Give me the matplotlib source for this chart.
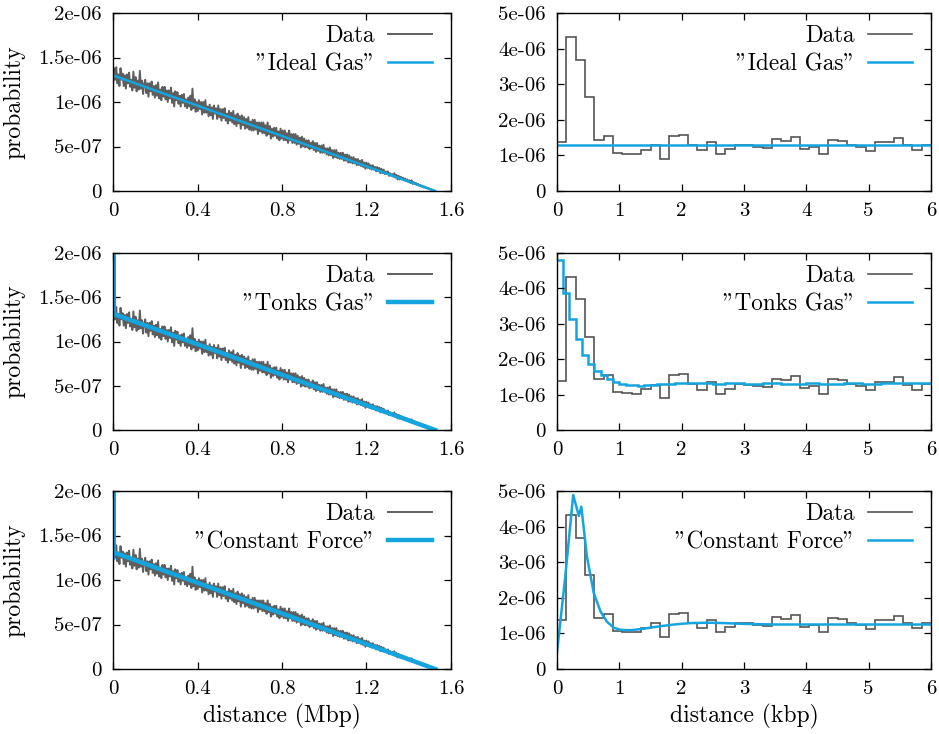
import numpy as np
import matplotlib
matplotlib.use("Agg")
import matplotlib.pyplot as plt

plt.rcParams['font.family'] = ['cmr10', 'DejaVu Serif']
plt.rcParams['axes.unicode_minus'] = False

# ---------------- data ----------------
# left panels: distance (Mbp) vs probability (units of 1e-8)
mbp_x_max = 1.52
mbp_data = [118, 138, 125, 139, 121, 131, 118, 138, 125, 132,
            118, 130, 115, 131, 121, 133, 117, 125, 113, 134,
            116, 128, 112, 124, 114, 135, 115, 124, 109, 120,
            125, 110, 121, 106, 121, 112, 123, 108, 118, 105,
            119, 107, 122, 104, 114, 102, 117, 106, 117, 103,
            113, 100, 113, 104, 116, 99, 110, 95, 112, 102,
            111, 98, 107, 95, 108, 99, 109, 95, 103, 93,
            105, 95, 107, 91, 115, 93, 103, 89, 100, 90,
            102, 92, 100, 86, 100, 88, 102, 88, 95, 84,
            97, 85, 94, 81, 96, 87, 93, 81, 96, 83,
            92, 79, 92, 82, 93, 79, 87, 76, 90, 79,
            88, 77, 90, 75, 85, 73, 87, 76, 84, 70,
            85, 74, 83, 70, 81, 71, 83, 69, 78, 68,
            80, 68, 80, 69, 77, 64, 77, 67, 77, 65,
            77, 65, 74, 62, 77, 64, 73, 59, 70, 61,
            71, 62, 71, 59, 67, 57, 70, 59, 68, 57,
            68, 57, 65, 54, 68, 57, 64, 54, 64, 54,
            64, 52, 62, 53, 60, 49, 61, 50, 59, 49,
            57, 49, 57, 47, 54, 48, 56, 46, 54, 44,
            54, 45, 51, 43, 51, 43, 52, 43, 48, 41,
            48, 40, 49, 40, 46, 37, 46, 38, 46, 37,
            43, 36, 43, 36, 43, 34, 41, 34, 41, 32,
            40, 32, 38, 31, 38, 31, 36, 29, 36, 29,
            34, 28, 35, 27, 32, 25, 32, 26, 31, 25,
            29, 24, 29, 24, 27, 22, 27, 22, 26, 20,
            25, 20, 24, 19, 22, 19, 22, 17, 20, 17,
            19, 16, 20, 15, 18, 13, 17, 13, 16, 13,
            15, 12, 14, 11, 13, 10, 12, 9, 12, 8,
            10, 8, 9, 7, 8, 6, 7, 5, 6, 4,
            5, 4, 4, 3, 3, 2, 2, 1, 1, 0]
mbp_scale = 1e-8

ideal_left_x = [0.0, 1.525]
ideal_left_y = [1.30e-6, 0.0]
tonks_left_x = [0.0, 0.0, 0.004, 1.525]
tonks_left_y = [1.30e-6, 4.8e-6, 1.31e-6, 0.0]
force_left_x = [0.0, 0.0, 0.004, 1.525]
force_left_y = [1.25e-6, 4.9e-6, 1.31e-6, 0.0]

# right panels: distance (kbp) histogram, bin width 0.15 kbp
kbp_edges_step = 0.15
kbp_hist = [1.39, 4.32, 3.69, 2.64, 1.43, 1.55, 1.08, 1.05, 1.03, 1.15,
            1.28, 0.91, 1.55, 1.57, 1.30, 1.14, 1.37, 1.03, 1.17, 1.30,
            1.28, 1.24, 1.22, 1.45, 1.41, 1.52, 1.19, 1.24, 1.03, 1.43,
            1.40, 1.29, 1.23, 1.13, 1.37, 1.37, 1.50, 1.28, 1.14, 1.29]

ideal_right_x = [0.0, 6.0]
ideal_right_y = [1.30, 1.30]

# Tonks gas steps, width 0.1 kbp
tonks_step = 0.1
tonks_right = [4.79, 3.88, 3.13, 2.56, 2.13, 1.86, 1.68, 1.55, 1.43, 1.35,
               1.30, 1.27, 1.26, 1.25, 1.26, 1.27, 1.29, 1.30, 1.31, 1.32,
               1.33, 1.33, 1.33, 1.32, 1.32, 1.31, 1.31, 1.32, 1.32, 1.32,
               1.31, 1.31, 1.31, 1.32, 1.32, 1.32, 1.31, 1.31, 1.31, 1.31,
               1.32, 1.32, 1.31, 1.31, 1.31, 1.31, 1.32, 1.32, 1.32, 1.31,
               1.31, 1.31, 1.32, 1.32, 1.32, 1.32, 1.32, 1.33, 1.33, 1.33]

force_right_x = [0.0, 0.13, 0.26, 0.35, 0.39, 0.48, 0.59, 0.70, 0.80, 0.91,
                 1.02, 1.18, 1.34, 1.61, 1.875, 2.14, 2.41, 2.68, 2.95, 3.48,
                 4.0, 5.0, 6.0]
force_right_y = [0.47, 2.55, 4.89, 4.30, 4.56, 3.16, 2.13, 1.61, 1.33, 1.16,
                 1.10, 1.09, 1.12, 1.19, 1.25, 1.29, 1.30, 1.29, 1.27, 1.25,
                 1.25, 1.25, 1.25]
kbp_scale = 1e-6

model_names = ['"Ideal Gas"', '"Tonks Gas"', '"Constant Force"']

left_yticks = [0, 5e-7, 1e-6, 1.5e-6, 2e-6]
left_yticklabels = ['0', '5e-07', '1e-06', '1.5e-06', '2e-06']
left_xticks = [0, 0.4, 0.8, 1.2, 1.6]
left_xticklabels = ['0', '0.4', '0.8', '1.2', '1.6']
right_yticks = [0, 1e-6, 2e-6, 3e-6, 4e-6, 5e-6]
right_yticklabels = ['0', '1e-06', '2e-06', '3e-06', '4e-06', '5e-06']
right_xticks = [0, 1, 2, 3, 4, 5, 6]
right_xticklabels = ['0', '1', '2', '3', '4', '5', '6']

# ---------------- plot ----------------
GRAY_L = '#5e5e5e'
GRAY_R = '#555555'
BLUE = '#14a5de'
FS_TICK = 15
FS_LAB = 17
FS_LEG = 16.7

W, H = 939, 734
fig = plt.figure(figsize=(W / 100, H / 100), dpi=100)

rows = [(13, 191), (253, 430), (491, 669)]
lcol = (113, 451)
rcol = (557, 931)

def add_ax(col, row):
    x0, x1 = col
    y0, y1 = row
    return fig.add_axes([x0 / W, 1 - y1 / H, (x1 - x0) / W, (y1 - y0) / H])

mbp_x = np.linspace(0, mbp_x_max, len(mbp_data))
mbp_y = np.array(mbp_data) * mbp_scale
edges = np.arange(len(kbp_hist) + 1) * kbp_edges_step
hist_vals = np.array(kbp_hist) * kbp_scale
t_edges = np.arange(len(tonks_right) + 1) * tonks_step

left_fits = [(ideal_left_x, ideal_left_y, 1.8),
             (tonks_left_x, tonks_left_y, 3.2),
             (force_left_x, force_left_y, 3.2)]

def style(ax, xt, xtl, yt, ytl, xlim, ylim):
    ax.set_xlim(*xlim)
    ax.set_ylim(*ylim)
    ax.set_xticks(xt)
    ax.set_xticklabels(xtl)
    ax.set_yticks(yt)
    ax.set_yticklabels(ytl)
    ax.tick_params(direction='in', top=True, right=True, length=5, width=0.9,
                   labelsize=FS_TICK)
    ax.tick_params(axis='y', pad=8)
    ax.tick_params(axis='x', pad=8)
    for s in ax.spines.values():
        s.set_linewidth(1.0)

def legend(ax, width_px, height_px):
    ax.legend(loc='upper right', frameon=False, markerfirst=False,
              handlelength=1.9, handletextpad=0.55, labelspacing=0.25,
              borderpad=0.0, borderaxespad=0.0,
              bbox_to_anchor=(1 - 19 / width_px, 1 - 12 / height_px),
              fontsize=FS_LEG)

for r in range(3):
    axl = add_ax(lcol, rows[r])
    axl.plot(mbp_x, mbp_y, color=GRAY_L, lw=1.4, label='Data')
    fx, fy, flw = left_fits[r]
    axl.plot(fx, fy, color=BLUE, lw=flw, label=model_names[r])
    style(axl, left_xticks, left_xticklabels, left_yticks, left_yticklabels,
          (0, 1.6), (0, 2e-6))
    axl.set_ylabel('probability', fontsize=FS_LAB, labelpad=9)
    legend(axl, lcol[1] - lcol[0], rows[r][1] - rows[r][0])

    axr = add_ax(rcol, rows[r])
    axr.stairs(hist_vals, edges, baseline=None, color=GRAY_R, lw=1.2, label='Data')
    if r == 0:
        axr.plot(ideal_right_x, np.array(ideal_right_y) * kbp_scale, color=BLUE,
                 lw=1.8, label=model_names[r])
    elif r == 1:
        axr.stairs(np.array(tonks_right) * kbp_scale, t_edges, baseline=None,
                   color=BLUE, lw=1.8, label=model_names[r])
    else:
        axr.plot(force_right_x, np.array(force_right_y) * kbp_scale, color=BLUE,
                 lw=1.8, label=model_names[r])
    style(axr, right_xticks, right_xticklabels, right_yticks, right_yticklabels,
          (0, 6), (0, 5e-6))
    legend(axr, rcol[1] - rcol[0], rows[r][1] - rows[r][0])
    if r == 2:
        axl.set_xlabel('distance (Mbp)', fontsize=FS_LAB, labelpad=4)
        axr.set_xlabel('distance (kbp)', fontsize=FS_LAB, labelpad=4)

fig.savefig('out.png', dpi=100)
